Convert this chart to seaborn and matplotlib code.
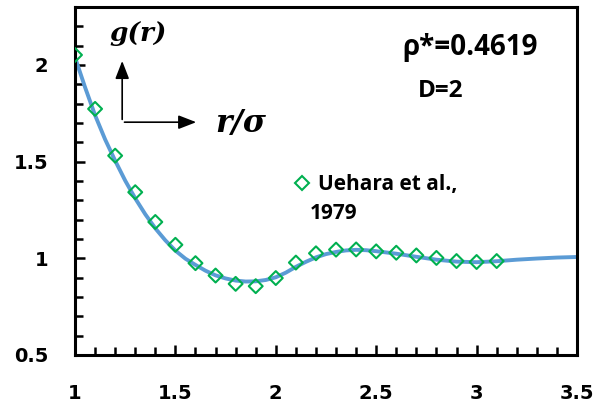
import matplotlib
matplotlib.use("Agg")
import matplotlib.pyplot as plt
from matplotlib.ticker import MultipleLocator, FuncFormatter
from matplotlib.lines import Line2D
import seaborn as sns
import pandas as pd

# Simulation data (Uehara et al., 1979): r/sigma and g(r)
sim_r = [1.0, 1.1, 1.2, 1.3, 1.4, 1.5, 1.6, 1.7, 1.8, 1.9, 2.0,
         2.1, 2.2, 2.3, 2.4, 2.5, 2.6, 2.7, 2.8, 2.9, 3.0, 3.1]
sim_g = [2.052, 1.773, 1.531, 1.342, 1.188, 1.070, 0.975, 0.911, 0.868, 0.856, 0.898,
         0.978, 1.026, 1.045, 1.046, 1.036, 1.029, 1.015, 1.002, 0.986, 0.981, 0.986]

# Theory curve
theory_r = [1.0, 1.05, 1.1, 1.15, 1.2, 1.25, 1.3, 1.35, 1.4, 1.45, 1.5, 1.55, 1.6, 1.65,
            1.7, 1.75, 1.8, 1.85, 1.9, 1.95, 2.0, 2.05, 2.1, 2.15, 2.2, 2.25, 2.3,
            2.35, 2.4, 2.45, 2.5, 2.6, 2.7, 2.8, 2.9, 3.0, 3.1, 3.2, 3.3, 3.4, 3.5]
theory_g = [2.04, 1.885, 1.74, 1.615, 1.505, 1.402, 1.31, 1.228, 1.155, 1.093, 1.04, 0.998,
            0.966, 0.936, 0.912, 0.896, 0.885, 0.880, 0.881, 0.888, 0.902, 0.926, 0.956,
            0.982, 1.005, 1.022, 1.033, 1.041, 1.044, 1.042, 1.037, 1.024, 1.008, 0.993,
            0.983, 0.980, 0.985, 0.993, 0.999, 1.004, 1.007]

x_ticks = [1, 1.5, 2, 2.5, 3, 3.5]
y_ticks = [0.5, 1, 1.5, 2]

sim_df = pd.DataFrame({"r": sim_r, "g": sim_g})
theory_df = pd.DataFrame({"r": theory_r, "g": theory_g})

sns.set_theme(style="white")
plt.rcParams["font.family"] = ["Open Sans", "DejaVu Sans"]
plt.rcParams["font.weight"] = "bold"
plt.rcParams["text.color"] = "black"

fig = plt.figure(figsize=(6.05, 4.08), dpi=100)
ax = fig.add_axes([75 / 605, 1 - 355 / 408, 502 / 605, 348 / 408])

line_color = "#5B9BD5"
marker_color = "#00B050"

sns.lineplot(data=theory_df, x="r", y="g", ax=ax, color=line_color, lw=2.8,
             sort=False, legend=False, zorder=2)
sns.scatterplot(data=sim_df, x="r", y="g", ax=ax, marker="D", s=50,
                facecolor="none", edgecolor=marker_color, linewidth=1.5,
                legend=False, zorder=3)

ax.set_xlim(1, 3.5)
ax.set_ylim(0.5, 2.3)
ax.set_xticks(x_ticks)
ax.set_yticks(y_ticks)
ax.xaxis.set_minor_locator(MultipleLocator(0.1))
ax.yaxis.set_minor_locator(MultipleLocator(0.1))
fmt = FuncFormatter(lambda v, p: f"{v:g}")
ax.xaxis.set_major_formatter(fmt)
ax.yaxis.set_major_formatter(fmt)
ax.set_xlabel("")
ax.set_ylabel("")

for sp in ax.spines.values():
    sp.set_visible(True)
    sp.set_color("black")
    sp.set_linewidth(2.2)

ax.tick_params(axis="both", which="both", direction="in", color="black",
               width=1.8, bottom=True, left=True, top=False, right=False)
ax.tick_params(axis="both", which="major", length=7, labelsize=14, labelcolor="black")
ax.tick_params(axis="both", which="minor", length=6)
ax.tick_params(axis="x", which="major", pad=21)
ax.tick_params(axis="y", which="major", pad=19)
for lbl in ax.get_xticklabels() + ax.get_yticklabels():
    lbl.set_family("DejaVu Sans")
    lbl.set_fontweight("bold")

# Axis-direction arrows
arrow_kw = dict(arrowstyle="-|>,head_length=0.9,head_width=0.35", color="black", lw=1.2)
ax.annotate("", xy=(0.094, 0.853), xytext=(0.094, 0.669),
            xycoords="axes fraction", arrowprops=arrow_kw)
ax.annotate("", xy=(0.247, 0.669), xytext=(0.093, 0.669),
            xycoords="axes fraction", arrowprops=arrow_kw)
ax.text(0.125, 0.925, "g(r)", transform=ax.transAxes, ha="center", va="center",
        fontsize=19, fontweight="bold", fontstyle="italic", family="DejaVu Serif",
        color="black")
ax.text(0.33, 0.665, "r/σ", transform=ax.transAxes, ha="center", va="center",
        fontsize=22.5, fontweight="bold", fontstyle="italic", family="DejaVu Serif",
        color="black")

ax.text(0.787, 0.885, "ρ*=0.4619", transform=ax.transAxes, ha="center", va="center",
        fontsize=20, fontweight="bold", color="black")
ax.text(0.729, 0.758, "D=2", transform=ax.transAxes, ha="center", va="center",
        fontsize=17.5, fontweight="bold", color="black")

handle = Line2D([], [], ls="none", marker="D", markersize=7, markerfacecolor="none",
                markeredgecolor=marker_color, markeredgewidth=1.5)
leg = ax.legend([handle], ["Uehara et al.,"], loc="center left", bbox_to_anchor=(0.415, 0.49),
                frameon=False, handlelength=0.8, handletextpad=0.35, borderpad=0,
                prop={"weight": "bold", "size": 15})
for t in leg.get_texts():
    t.set_color("black")
ax.text(0.468, 0.408, "1979", transform=ax.transAxes, ha="left", va="center",
        fontsize=15, fontweight="bold", color="black")

fig.savefig("out.png", dpi=100)
